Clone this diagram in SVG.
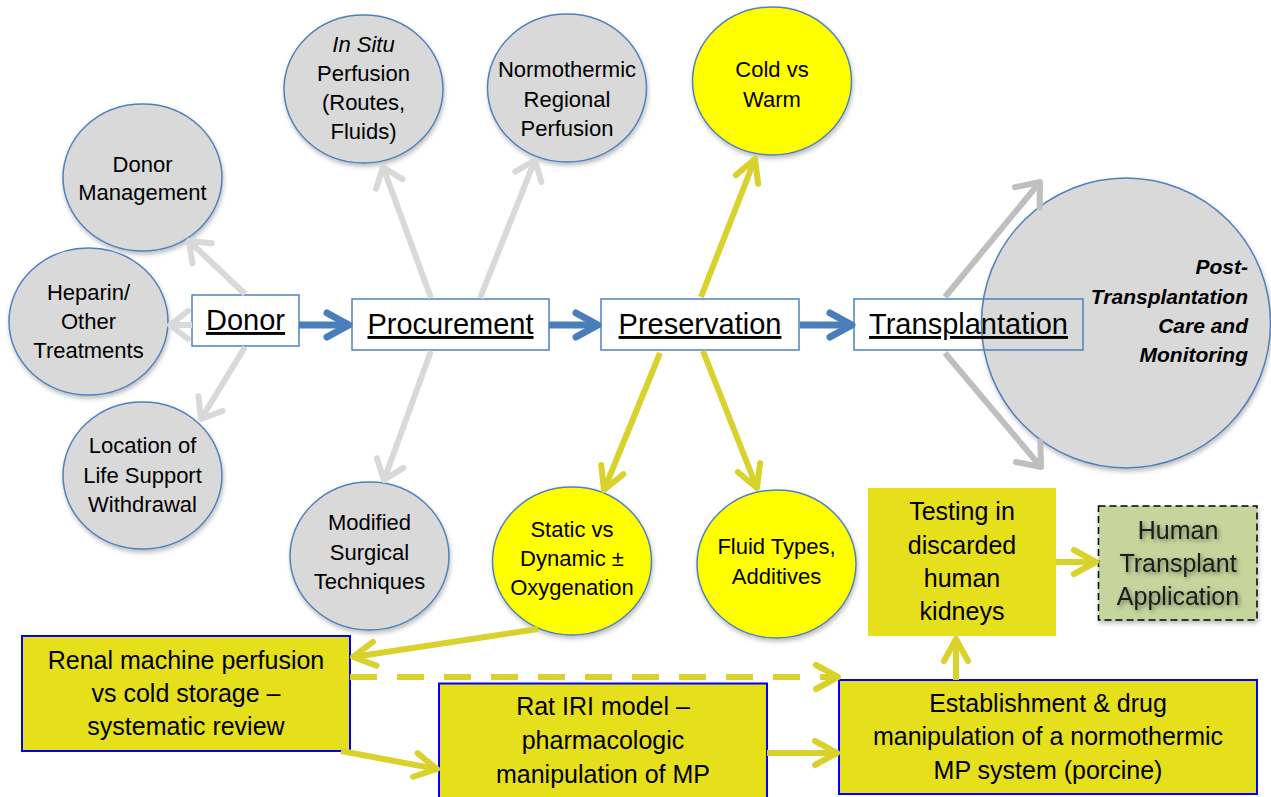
<svg xmlns="http://www.w3.org/2000/svg" width="1271" height="797" viewBox="0 0 1271 797">
<style>
text{font-family:"Liberation Sans",Arial,sans-serif;fill:#000;}
.ct{font-size:22px;text-anchor:middle;}
.bt{font-size:29px;text-anchor:middle;text-decoration:underline;}
.yt{font-size:25px;text-anchor:middle;}
.gc{fill:#d9d9d9;stroke:#4f81bd;stroke-width:1.5;filter:url(#sh);}
.yc{fill:#ffff00;stroke:#4f81bd;stroke-width:1.5;filter:url(#sh);}
.box{fill:none;stroke:#4f81bd;stroke-width:1.5;}
.yb{fill:#e5df1c;stroke:#0000ff;stroke-width:2;}
.lg{fill:none;stroke:#d9d9d9;stroke-width:6;marker-end:url(#ahLG);}
.dg{fill:none;stroke:#bfbfbf;stroke-width:6;marker-end:url(#ahDG);}
.bl{fill:none;stroke:#4a7ebb;stroke-width:7;marker-end:url(#ahBL);}
.yl{fill:none;stroke:#dad22c;stroke-width:6;marker-end:url(#ahYL);}
.dash{stroke-dasharray:27 20;}
</style>
<defs>
<filter id="sh" x="-10%" y="-10%" width="130%" height="130%"><feDropShadow dx="1" dy="3" stdDeviation="2" flood-color="#000" flood-opacity="0.25"/></filter>
<filter id="tsh" x="-10%" y="-20%" width="130%" height="150%"><feDropShadow dx="2" dy="2" stdDeviation="2" flood-color="#000" flood-opacity="0.45"/></filter>
<marker id="ahLG" markerUnits="userSpaceOnUse" viewBox="-30 -20 40 40" markerWidth="40" markerHeight="40" refX="0" refY="0" orient="auto" overflow="visible"><path d="M-18,-14 L0,0 L-18,14" fill="none" stroke="#d9d9d9" stroke-width="6" stroke-linecap="round" stroke-linejoin="round" stroke-dasharray="none"/></marker>
<marker id="ahDG" markerUnits="userSpaceOnUse" viewBox="-30 -20 40 40" markerWidth="40" markerHeight="40" refX="0" refY="0" orient="auto" overflow="visible"><path d="M-20,-16 L0,0 L-20,16" fill="none" stroke="#bfbfbf" stroke-width="6" stroke-linecap="round" stroke-linejoin="round" stroke-dasharray="none"/></marker>
<marker id="ahBL" markerUnits="userSpaceOnUse" viewBox="-30 -20 40 40" markerWidth="40" markerHeight="40" refX="0" refY="0" orient="auto" overflow="visible"><path d="M-22,-12 L0,0 L-22,12" fill="none" stroke="#4a7ebb" stroke-width="7" stroke-linecap="round" stroke-linejoin="round" stroke-dasharray="none"/></marker>
<marker id="ahYL" markerUnits="userSpaceOnUse" viewBox="-30 -20 40 40" markerWidth="40" markerHeight="40" refX="0" refY="0" orient="auto" overflow="visible"><path d="M-22,-12 L0,0 L-22,12" fill="none" stroke="#dad22c" stroke-width="6" stroke-linecap="round" stroke-linejoin="round" stroke-dasharray="none"/></marker>
</defs>
<rect width="1271" height="797" fill="#fff"/>

<g id="post-transplantation">
<ellipse class="gc" cx="1126" cy="323" rx="144.5" ry="145"/>
<text style="font-size:21px;font-weight:bold;font-style:italic;text-anchor:end"><tspan x="1248" y="274">Post-</tspan><tspan x="1248" y="303.5">Transplantation</tspan><tspan x="1248" y="332.5">Care and</tspan><tspan x="1248" y="361.5">Monitoring</tspan></text>
</g>

<g id="donor-management">
<ellipse class="gc" cx="142.5" cy="177.5" rx="79.5" ry="73.5"/>
<text class="ct"><tspan x="142.5" y="171.5">Donor</tspan><tspan x="142.5" y="200">Management</tspan></text>
</g>
<g id="heparin">
<ellipse class="gc" cx="88.5" cy="321.5" rx="79.5" ry="73.5"/>
<text class="ct"><tspan x="88.5" y="300">Heparin/</tspan><tspan x="88.5" y="329">Other</tspan><tspan x="88.5" y="358">Treatments</tspan></text>
</g>
<g id="location">
<ellipse class="gc" cx="142.5" cy="475.5" rx="79.5" ry="73.5"/>
<text class="ct"><tspan x="142.5" y="453">Location of</tspan><tspan x="142.5" y="482.5">Life Support</tspan><tspan x="142.5" y="511.5">Withdrawal</tspan></text>
</g>
<g id="in-situ">
<ellipse class="gc" cx="363.5" cy="89" rx="79.5" ry="74"/>
<text class="ct"><tspan x="363.5" y="51.5" font-style="italic">In Situ</tspan><tspan x="363.5" y="81">Perfusion</tspan><tspan x="363.5" y="110">(Routes,</tspan><tspan x="363.5" y="138.5">Fluids)</tspan></text>
</g>
<g id="normothermic">
<ellipse class="gc" cx="567" cy="88" rx="79.5" ry="74"/>
<text class="ct"><tspan x="567" y="77">Normothermic</tspan><tspan x="567" y="106.5">Regional</tspan><tspan x="567" y="136">Perfusion</tspan></text>
</g>
<g id="cold-warm">
<ellipse class="yc" cx="772" cy="81" rx="79.5" ry="74"/>
<text class="ct"><tspan x="772" y="77">Cold vs</tspan><tspan x="772" y="106.5">Warm</tspan></text>
</g>
<g id="modified-surgical">
<ellipse class="gc" cx="369.5" cy="556" rx="79.5" ry="74"/>
<text class="ct"><tspan x="369.5" y="530">Modified</tspan><tspan x="369.5" y="560">Surgical</tspan><tspan x="369.5" y="589">Techniques</tspan></text>
</g>
<g id="static-dynamic">
<ellipse class="yc" cx="572" cy="561" rx="79.5" ry="74"/>
<text class="ct"><tspan x="572" y="536.5">Static vs</tspan><tspan x="572" y="566">Dynamic ±</tspan><tspan x="572" y="595">Oxygenation</tspan></text>
</g>
<g id="fluid-types">
<ellipse class="yc" cx="776.5" cy="564" rx="79.5" ry="74"/>
<text class="ct"><tspan x="776.5" y="554">Fluid Types,</tspan><tspan x="776.5" y="583.5">Additives</tspan></text>
</g>

<g id="donor">
<rect class="box" x="192" y="295" width="107" height="51"/>
<text class="bt" x="245.5" y="330">Donor</text>
</g>
<g id="procurement">
<rect class="box" x="352" y="299" width="197" height="51"/>
<text class="bt" x="450.5" y="334">Procurement</text>
</g>
<g id="preservation">
<rect class="box" x="601" y="299" width="198" height="51"/>
<text class="bt" x="700" y="334">Preservation</text>
</g>
<g id="transplantation">
<rect class="box" x="854" y="299" width="229" height="51"/>
<text class="bt" x="968.5" y="334">Transplantation</text>
</g>

<g id="renal-review">
<rect class="yb" x="22" y="636" width="328" height="115"/>
<text class="yt"><tspan x="186" y="668.5">Renal machine perfusion</tspan><tspan x="186" y="701.5">vs cold storage –</tspan><tspan x="186" y="735">systematic review</tspan></text>
</g>
<g id="rat-iri">
<rect class="yb" x="439" y="683.5" width="328" height="120"/>
<text class="yt"><tspan x="603" y="715">Rat IRI model –</tspan><tspan x="603" y="748.5">pharmacologic</tspan><tspan x="603" y="782.5">manipulation of MP</tspan></text>
</g>
<g id="establishment">
<rect class="yb" x="839" y="680" width="418" height="114"/>
<text class="yt"><tspan x="1048" y="711.5">Establishment &amp; drug</tspan><tspan x="1048" y="745">manipulation of a normothermic</tspan><tspan x="1048" y="778.5">MP system (porcine)</tspan></text>
</g>
<g id="testing">
<rect x="868" y="488" width="188" height="148" fill="#e5df1c"/>
<text class="yt"><tspan x="962" y="520">Testing in</tspan><tspan x="962" y="553.5">discarded</tspan><tspan x="962" y="587">human</tspan><tspan x="962" y="620">kidneys</tspan></text>
</g>
<g id="human-application">
<rect x="1098.5" y="506" width="158.5" height="114" fill="#c4d69c" stroke="#000" stroke-width="1.5" stroke-dasharray="7 4" filter="url(#sh)"/>
<text class="yt" style="fill:#1a1a1a" filter="url(#tsh)"><tspan x="1178" y="538.5">Human</tspan><tspan x="1178" y="572">Transplant</tspan><tspan x="1178" y="605">Application</tspan></text>
</g>

<g id="connectors">
<path class="lg" d="M245,294 L189,241"/>
<path class="lg" d="M192,325 L170,325"/>
<path class="lg" d="M245,347 L201,419"/>
<path class="lg" d="M431,298 L383,167"/>
<path class="lg" d="M480,298 L535,160"/>
<path class="lg" d="M431,351 L384,480"/>
<path class="bl" d="M299,325 L349,325"/>
<path class="bl" d="M549,325 L598,325"/>
<path class="bl" d="M800,325 L852,325"/>
<path class="dg" d="M945,297 L1040,182"/>
<path class="dg" d="M945,353 L1041,467"/>
<path class="yl" d="M701,297 L755,159"/>
<path class="yl" d="M660,353 L604,490"/>
<path class="yl" d="M703,351 L757,488"/>
<path class="yl" d="M538,629 L353,657"/>
<path class="yl dash" d="M350,677 L838,677"/>
<path class="yl" d="M341,751 L437,769"/>
<path class="yl" d="M767,753 L837,753"/>
<path class="yl" d="M956,680 L956,639"/>
<path class="yl" d="M1056,562 L1096,562"/>
</g>
</svg>
